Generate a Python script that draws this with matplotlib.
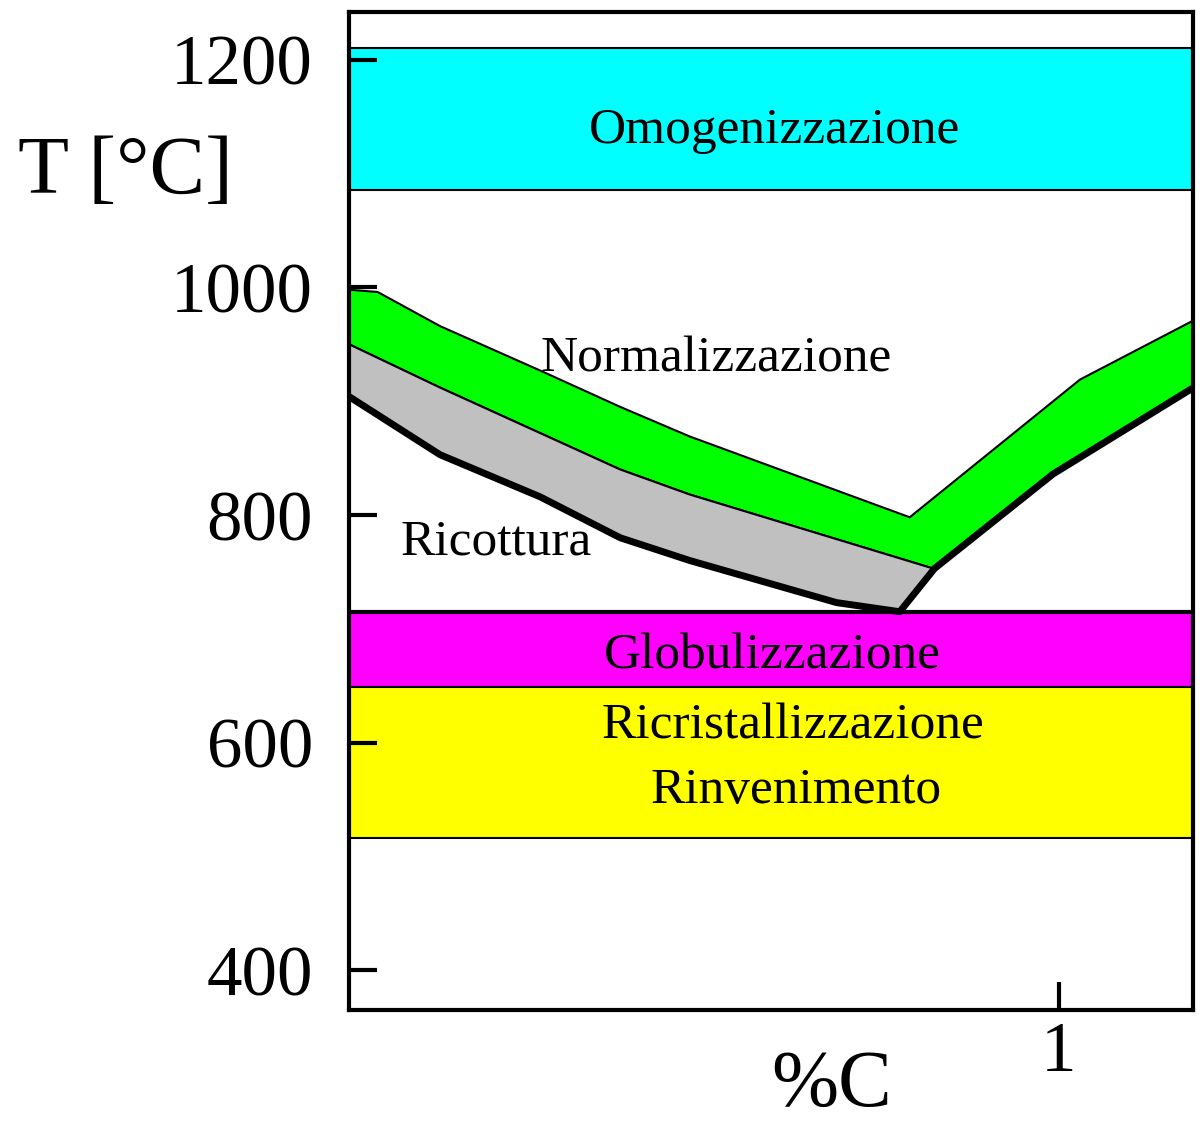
import numpy as np
import matplotlib
matplotlib.use("Agg")
import matplotlib.pyplot as plt

plt.rcParams["font.family"] = ["Liberation Serif", "DejaVu Serif"]

# heat treatment ranges (steel, T vs %C)
# normalizzazione: upper line
norm_x = [0, 0.04, 0.128, 0.269, 0.382, 0.48, 0.79, 1.03, 1.19]
norm_T = [998, 996, 966, 927, 895, 869, 798, 919, 971]

# ricottura upper line (lower limit of green on the left)
ric_top_x = [0, 0.128, 0.382, 0.48, 0.823]
ric_top_T = [950, 912, 840, 818, 753]

# thick black line (A1 / A3 / Acm)
low_x = [0, 0.128, 0.269, 0.382, 0.48, 0.687, 0.776, 0.825, 0.992, 1.19]
low_T = [904, 853, 816, 780, 760, 723, 715, 753, 836, 912]

# horizontal bands (T min, T max)
omog = (1086, 1210)
glob = (649, 715)
ricr = (516, 649)
eutectoid_T = 715

labels = ["Omogenizzazione", "Normalizzazione", "Ricottura",
          "Globulizzazione", "Ricristallizzazione", "Rinvenimento"]

fig = plt.figure(figsize=(12, 11.24), dpi=100)
ax = fig.add_axes([0.291, 0.1014, 0.703, 0.8879])

ax.axhspan(omog[0], omog[1], facecolor="#00ffff", edgecolor="black", lw=1.5, zorder=1)
ax.axhspan(glob[0], glob[1], facecolor="#ff00ff", edgecolor="black", lw=1.5, zorder=1)
ax.axhspan(ricr[0], ricr[1], facecolor="#ffff00", edgecolor="black", lw=1.5, zorder=1)
ax.axhline(eutectoid_T, color="black", lw=3, zorder=4)

# green region: normalization line down to annealing top / black line right branch
i_v = low_x.index(0.825)
green_x = norm_x + low_x[::-1][:len(low_x) - i_v] + ric_top_x[::-1]
green_T = norm_T + low_T[::-1][:len(low_T) - i_v] + ric_top_T[::-1]
ax.fill(green_x, green_T, facecolor="#00ff00", edgecolor="black", lw=1.5, zorder=2)

# gray region: annealing
i_b = low_x.index(0.776)
gray_x = ric_top_x + low_x[:i_b + 1][::-1]
gray_T = ric_top_T + low_T[:i_b + 1][::-1]
ax.fill(gray_x, gray_T, facecolor="#c0c0c0", edgecolor="black", lw=1.5, zorder=2)

ax.plot(low_x, low_T, color="black", lw=5, solid_joinstyle="round", zorder=3)

ax.set_xlim(0, 1.189)
ax.set_ylim(365, 1242)

ax.set_yticks([400, 600, 800, 1000, 1200])
ax.set_xticks([1])
ax.tick_params(axis="y", direction="in", length=20, width=3, labelsize=51, pad=26)
ax.tick_params(axis="x", direction="in", length=20, width=3, labelsize=51, pad=8)
for s in ax.spines.values():
    s.set_linewidth(3)
    s.set_zorder(5)

ax.text(-0.265, 0.838, "T [°C]", fontsize=60, ha="center", va="center",
        transform=ax.transAxes)
ax.text(0.572, -0.077, "%C", fontsize=58, ha="center", va="center",
        transform=ax.transAxes)

fs = 37
ax.text(0.6, 1138, labels[0], fontsize=fs, ha="center", va="center", zorder=6)
ax.text(0.269, 937, labels[1], fontsize=fs, ha="left", va="center", zorder=6)
ax.text(0.072, 776, labels[2], fontsize=fs, ha="left", va="center", zorder=6)
ax.text(0.596, 676, labels[3], fontsize=fs, ha="center", va="center", zorder=6)
ax.text(0.625, 614, labels[4], fontsize=fs, ha="center", va="center", zorder=6)
ax.text(0.63, 558, labels[5], fontsize=fs, ha="center", va="center", zorder=6)

fig.savefig("out.png", dpi=100)
